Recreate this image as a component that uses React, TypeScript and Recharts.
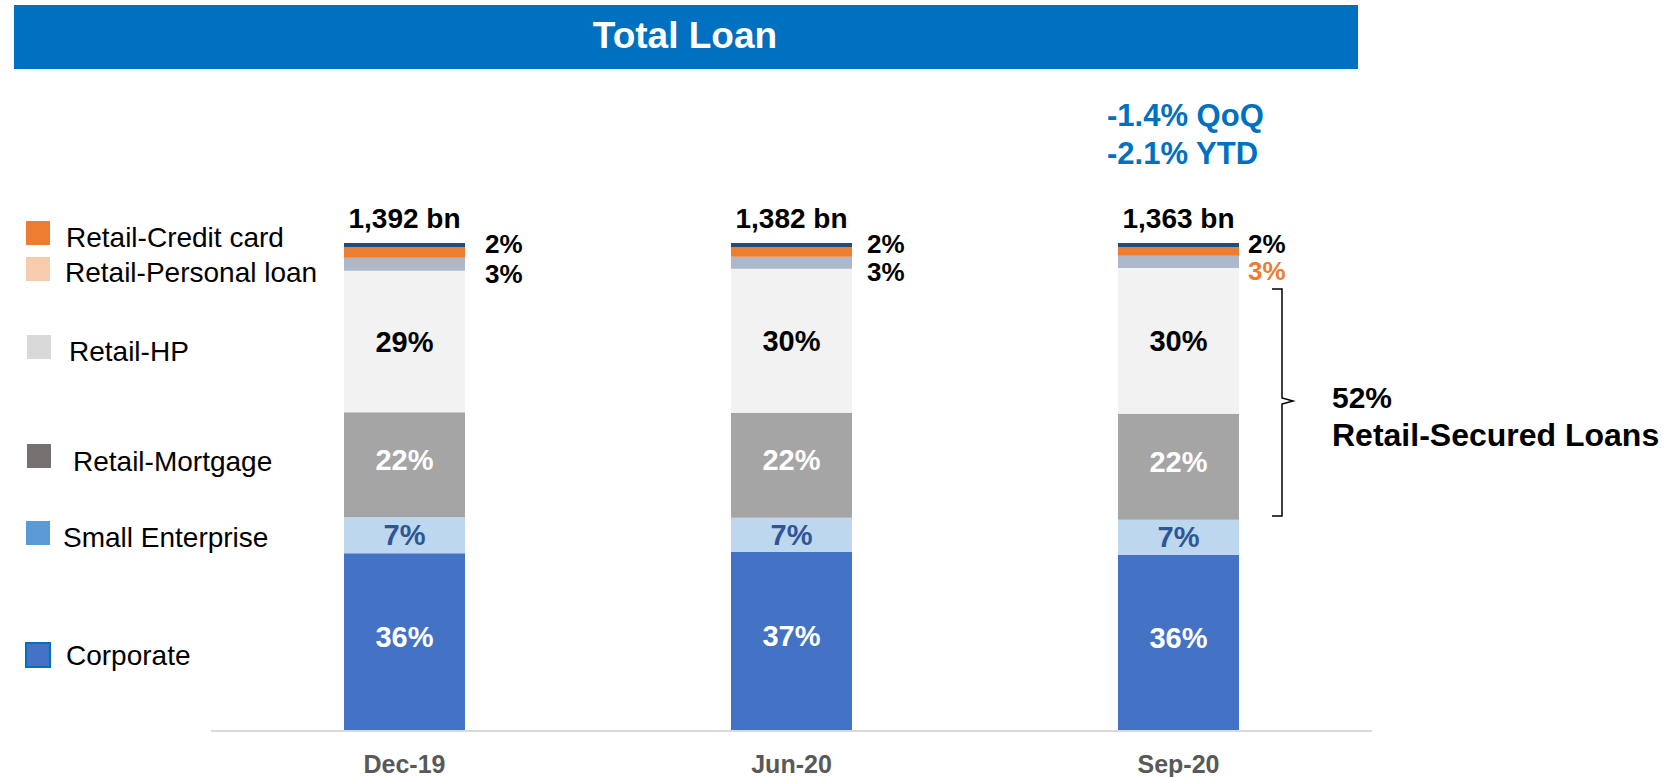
import React from 'react';
import { BarChart, Bar, XAxis, YAxis, LabelList } from 'recharts';

const categories = ['Dec-19', 'Jun-20', 'Sep-20'];
const corporate = [36.4, 36.7, 36.1];
const smallEnterprise = [7.4, 7.0, 7.2];
const retailMortgage = [21.5, 21.5, 21.7];
const retailHP = [29.0, 29.5, 29.9];
const retailPersonal = [2.7, 2.5, 2.5];
const retailCreditCard = [2.2, 2.0, 1.8];
const other = [0.8, 0.8, 0.8];
const totalLoanBn = ['1,392 bn', '1,382 bn', '1,363 bn'];

const legendNames = [
  'Retail-Credit card',
  'Retail-Personal loan',
  'Retail-HP',
  'Retail-Mortgage',
  'Small Enterprise',
  'Corporate',
];
const legendColors = ['#ED7D31', '#F8CBAD', '#D9D9D9', '#767171', '#5B9BD5', '#4472C4'];

const titleText = 'Total Loan';
const growthNotes = ['-1.4% QoQ', '-2.1% YTD'];
const securedShare = '52%';
const securedLabel = 'Retail-Secured Loans';

const data = categories.map((name, i) => ({
  name,
  corporate: corporate[i],
  smallEnterprise: smallEnterprise[i],
  retailMortgage: retailMortgage[i],
  retailHP: retailHP[i],
  retailPersonal: retailPersonal[i],
  retailCreditCard: retailCreditCard[i],
  other: other[i],
}));

const FONT = '"Liberation Sans", Arial, sans-serif';

const pct = (v: number) => `${Math.round(v)}%`;

const centerLabel = (arr: number[], color: string, dy = 0) => (props: any) => {
  const { x, y, width, height, index } = props;
  return (
    <text
      x={x + width / 2}
      y={y + height / 2 + dy}
      textAnchor="middle"
      dominantBaseline="central"
      fill={color}
      fontFamily={FONT}
      fontWeight="bold"
      fontSize={29}
    >
      {pct(arr[index])}
    </text>
  );
};

const sideOffsets = [20, 15, 9];

const ccLabel = (props: any) => {
  const { x, y, width, index } = props;
  return (
    <text
      x={x + width + sideOffsets[index]}
      y={y - 3}
      dominantBaseline="central"
      fill="#000"
      fontFamily={FONT}
      fontWeight="bold"
      fontSize={26}
    >
      {pct(retailCreditCard[index])}
    </text>
  );
};

const plLabel = (props: any) => {
  const { x, y, width, height, index } = props;
  return (
    <text
      x={x + width + sideOffsets[index]}
      y={y + height + 3}
      dominantBaseline="central"
      fill={index === 2 ? '#ED7D31' : '#000'}
      fontFamily={FONT}
      fontWeight="bold"
      fontSize={26}
    >
      {pct(retailPersonal[index])}
    </text>
  );
};

const totalLabel = (props: any) => {
  const { x, y, width, index } = props;
  return (
    <text
      x={x + width / 2}
      y={y - 25}
      textAnchor="middle"
      dominantBaseline="central"
      fill="#000"
      fontFamily={FONT}
      fontWeight="bold"
      fontSize={28}
    >
      {totalLoanBn[index]}
    </text>
  );
};

const XTick = (props: any) => {
  const { x, y, payload } = props;
  return (
    <text
      x={x}
      y={y + 31}
      textAnchor="middle"
      dominantBaseline="central"
      fill="#595959"
      fontFamily={FONT}
      fontWeight="bold"
      fontSize={25}
    >
      {payload.value}
    </text>
  );
};

const legendRows = [
  { sy: 233, ty: 237, sx: 26, tx: 66 },
  { sy: 269, ty: 272, sx: 26, tx: 65 },
  { sy: 347, ty: 351, sx: 27, tx: 69 },
  { sy: 456, ty: 461, sx: 27, tx: 73 },
  { sy: 533, ty: 537, sx: 26, tx: 63 },
  { sy: 655, ty: 655, sx: 26, tx: 66 },
];

export default function App() {
  return (
    <div style={{ position: 'absolute', left: 0, top: 0, width: 1665, height: 777, background: '#fff' }}>
      <BarChart
        width={1665}
        height={777}
        data={data}
        margin={{ top: 243, right: 293, bottom: 0, left: 211 }}
      >
        <XAxis
          dataKey="name"
          height={46}
          axisLine={{ stroke: '#D9D9D9', strokeWidth: 2 }}
          tickLine={false}
          tickSize={0}
          tick={<XTick />}
          interval={0}
        />
        <YAxis hide width={0} domain={[0, 100]} />
        <Bar dataKey="corporate" stackId="a" fill="#4472C4" barSize={121} isAnimationActive={false}>
          <LabelList dataKey="corporate" content={centerLabel(corporate, '#FFFFFF', -5)} />
        </Bar>
        <Bar dataKey="smallEnterprise" stackId="a" fill="#BDD7EE" barSize={121} isAnimationActive={false}>
          <LabelList dataKey="smallEnterprise" content={centerLabel(smallEnterprise, '#2F5597')} />
        </Bar>
        <Bar dataKey="retailMortgage" stackId="a" fill="#A5A5A5" barSize={121} isAnimationActive={false}>
          <LabelList dataKey="retailMortgage" content={centerLabel(retailMortgage, '#FFFFFF', -5)} />
        </Bar>
        <Bar dataKey="retailHP" stackId="a" fill="#F2F2F2" barSize={121} isAnimationActive={false}>
          <LabelList dataKey="retailHP" content={centerLabel(retailHP, '#000000', 0)} />
        </Bar>
        <Bar dataKey="retailPersonal" stackId="a" fill="#ADB9CA" barSize={121} isAnimationActive={false}>
          <LabelList dataKey="retailPersonal" content={plLabel} />
        </Bar>
        <Bar dataKey="retailCreditCard" stackId="a" fill="#ED7D31" barSize={121} isAnimationActive={false}>
          <LabelList dataKey="retailCreditCard" content={ccLabel} />
        </Bar>
        <Bar dataKey="other" stackId="a" fill="#1F4E79" barSize={121} isAnimationActive={false}>
          <LabelList dataKey="other" content={totalLabel} />
        </Bar>
      </BarChart>
      <svg
        width={1665}
        height={777}
        style={{ position: 'absolute', left: 0, top: 0, pointerEvents: 'none' }}
      >
        <rect x={14} y={5} width={1344} height={64} fill="#0070C0" />
        <text
          x={685}
          y={35}
          textAnchor="middle"
          dominantBaseline="central"
          fill="#FFFFFF"
          fontFamily={FONT}
          fontWeight="bold"
          fontSize={37}
        >
          {titleText}
        </text>
        {growthNotes.map((t, i) => (
          <text
            key={t}
            x={1107}
            y={115 + i * 38}
            dominantBaseline="central"
            fill="#0070C0"
            fontFamily={FONT}
            fontWeight="bold"
            fontSize={31}
          >
            {t}
          </text>
        ))}
        {legendNames.map((n, i) => (
          <g key={n}>
            <rect
              x={legendRows[i].sx}
              y={legendRows[i].sy - 12}
              width={24}
              height={24}
              fill={legendColors[i]}
              stroke={i === 5 ? '#0070C0' : 'none'}
              strokeWidth={i === 5 ? 2 : 0}
            />
            <text
              x={legendRows[i].tx}
              y={legendRows[i].ty}
              dominantBaseline="central"
              fill="#000"
              fontFamily={FONT}
              fontSize={28}
            >
              {n}
            </text>
          </g>
        ))}
        <path
          d="M1272 289 L1282 289 L1282 398 L1293 401 L1282 404 L1282 516 L1272 516"
          fill="none"
          stroke="#000"
          strokeWidth={1.5}
        />
        <text
          x={1332}
          y={397}
          dominantBaseline="central"
          fill="#000"
          fontFamily={FONT}
          fontWeight="bold"
          fontSize={30}
        >
          {securedShare}
        </text>
        <text
          x={1332}
          y={435}
          dominantBaseline="central"
          fill="#000"
          fontFamily={FONT}
          fontWeight="bold"
          fontSize={32}
        >
          {securedLabel}
        </text>
      </svg>
    </div>
  );
}
